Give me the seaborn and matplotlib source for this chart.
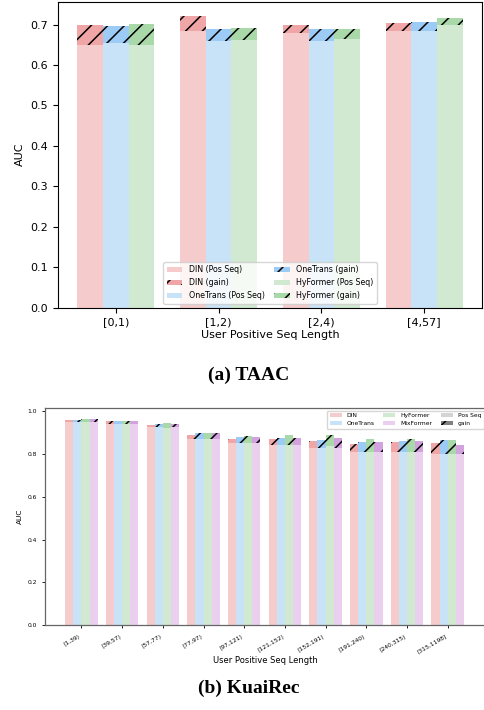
import numpy as np
import pandas as pd
import seaborn as sns
import matplotlib.pyplot as plt
from matplotlib.patches import Patch

plt.rcParams['hatch.linewidth'] = 1.1

# ---- TAAC data (AUC) ----
taac_bins = ['[0,1)', '[1,2)', '[2,4)', '[4,57]']
taac_models = ['DIN', 'OneTrans', 'HyFormer']
taac_din_pos = [0.649, 0.684, 0.679, 0.684]
taac_din_total = [0.698, 0.721, 0.700, 0.703]
taac_onetrans_pos = [0.655, 0.659, 0.660, 0.684]
taac_onetrans_total = [0.697, 0.688, 0.688, 0.706]
taac_hyformer_pos = [0.649, 0.661, 0.665, 0.699]
taac_hyformer_total = [0.701, 0.692, 0.688, 0.716]

# ---- KuaiRec data (AUC) ----
kuai_bins = ['[1,39)', '[39,57)', '[57,77)', '[77,97)', '[97,121)',
             '[121,152)', '[152,191)', '[191,240)', '[240,315)', '[315,1198]']
kuai_models = ['DIN', 'OneTrans', 'HyFormer', 'MixFormer']
kuai_din_pos = [0.949, 0.939, 0.924, 0.869, 0.849, 0.841, 0.829, 0.810, 0.810, 0.799]
kuai_din_total = [0.958, 0.952, 0.935, 0.889, 0.869, 0.869, 0.860, 0.845, 0.855, 0.849]
kuai_onetrans_pos = [0.949, 0.940, 0.924, 0.869, 0.849, 0.841, 0.829, 0.810, 0.810, 0.799]
kuai_onetrans_total = [0.958, 0.954, 0.939, 0.896, 0.880, 0.874, 0.865, 0.854, 0.860, 0.865]
kuai_hyformer_pos = [0.950, 0.940, 0.921, 0.869, 0.849, 0.841, 0.834, 0.810, 0.810, 0.799]
kuai_hyformer_total = [0.963, 0.954, 0.945, 0.896, 0.883, 0.888, 0.886, 0.869, 0.869, 0.865]
kuai_mixformer_pos = [0.949, 0.940, 0.924, 0.869, 0.849, 0.841, 0.829, 0.810, 0.810, 0.799]
kuai_mixformer_total = [0.960, 0.954, 0.937, 0.897, 0.880, 0.874, 0.872, 0.855, 0.860, 0.841]

base_colors = {'DIN': '#f6cbcb', 'OneTrans': '#c8e2f8', 'HyFormer': '#d0e9d0', 'MixFormer': '#ead0ee'}
gain_colors = {'DIN': '#f0a6a6', 'OneTrans': '#9ccbf5', 'HyFormer': '#a9d8a9', 'MixFormer': '#d2a2df'}


def long_table(bins, models, pos_lists, total_lists):
    rows = []
    for m, p, t in zip(models, pos_lists, total_lists):
        for b, pv, tv in zip(bins, p, t):
            rows.append({'bin': b, 'model': m, 'pos': pv, 'total': tv})
    return pd.DataFrame(rows)


def draw(ax, df, bins, models, width):
    # full bar (gain colour, hatched), then Pos Seq part over it
    sns.barplot(data=df, x='bin', y='total', hue='model', order=bins, hue_order=models,
                palette=gain_colors, saturation=1, width=width, hatch='//',
                edgecolor='black', linewidth=0, errorbar=None, legend=False, ax=ax)
    sns.barplot(data=df, x='bin', y='pos', hue='model', order=bins, hue_order=models,
                palette=base_colors, saturation=1, width=width,
                linewidth=0, errorbar=None, legend=False, ax=ax)


fig = plt.figure(figsize=(4.84, 7.10), dpi=100)

# ---------- (a) TAAC ----------
ax1 = fig.add_axes([58 / 484, 1 - 307.5 / 710, 424 / 484, 305.5 / 710])
taac = long_table(taac_bins, taac_models,
                  [taac_din_pos, taac_onetrans_pos, taac_hyformer_pos],
                  [taac_din_total, taac_onetrans_total, taac_hyformer_total])
draw(ax1, taac, taac_bins, taac_models, 0.75)
ax1.set_xlim(-0.5625, 3.5625)
ax1.set_ylim(0, 0.756)
ax1.set_yticks(np.arange(0, 0.75, 0.1))
ax1.tick_params(labelsize=8)
ax1.set_xlabel('User Positive Seq Length', fontsize=8, labelpad=2)
ax1.set_ylabel('AUC', fontsize=8)

handles = []
for m in taac_models:
    handles.append(Patch(facecolor=base_colors[m], lw=0, label=f'{m} (Pos Seq)'))
    handles.append(Patch(facecolor=gain_colors[m], hatch='//', edgecolor='black', lw=0, label=f'{m} (gain)'))
ax1.legend(handles=handles, ncol=2, loc='lower center', fontsize=5.7,
           columnspacing=1.2, borderaxespad=0.5)

fig.text(249 / 484, 1 - 375 / 710, '(a) TAAC', ha='center', va='center',
         fontsize=14, fontweight='bold', family='Liberation Serif')

# ---------- (b) KuaiRec ----------
ax2 = fig.add_axes([45 / 484, 1 - 625.3 / 710, 441 / 484, 217 / 710])
kuai = long_table(kuai_bins, kuai_models,
                  [kuai_din_pos, kuai_onetrans_pos, kuai_hyformer_pos, kuai_mixformer_pos],
                  [kuai_din_total, kuai_onetrans_total, kuai_hyformer_total, kuai_mixformer_total])
draw(ax2, kuai, kuai_bins, kuai_models, 0.8)
ax2.set_xlim(-0.894, 9.94)
ax2.set_ylim(0, 1.012)
ax2.set_yticks(np.arange(0, 1.01, 0.2))
ax2.tick_params(labelsize=4.3, length=2.5, width=0.6)
for lab in ax2.get_xticklabels():
    lab.set_rotation(30)
    lab.set_ha('right')
ax2.set_xlabel('User Positive Seq Length', fontsize=6, labelpad=1)
ax2.set_ylabel('AUC', fontsize=5.3, labelpad=3)
for s in ax2.spines.values():
    s.set_color('#666666')
    s.set_linewidth(0.9)

handles2 = [Patch(facecolor=base_colors[m], lw=0, label=m) for m in kuai_models]
handles2.append(Patch(facecolor='#d4d4d4', lw=0, label='Pos Seq'))
handles2.append(Patch(facecolor='#808080', hatch='//', edgecolor='black', lw=0, label='gain'))
ax2.legend(handles=handles2, ncol=3, loc='upper right', fontsize=4.3,
           columnspacing=1.5, borderaxespad=0.4)

fig.text(249 / 484, 1 - 688 / 710, '(b) KuaiRec', ha='center', va='center',
         fontsize=14, fontweight='bold', family='Liberation Serif')

fig.savefig('out.png', dpi=100)
